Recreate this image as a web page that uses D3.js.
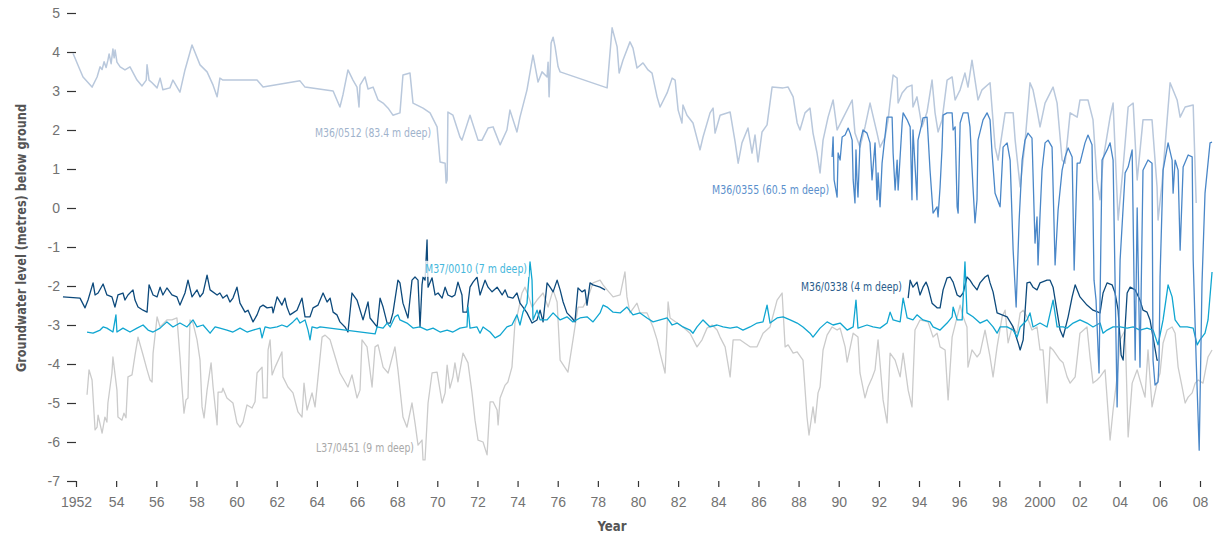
<!DOCTYPE html>
<html>
<head>
<meta charset="utf-8">
<script src="https://cdn.jsdelivr.net/npm/d3@7"></script>
<style>
  html, body { margin: 0; padding: 0; background: #ffffff; }
  svg { display: block; }
  .tick text { font-family: "Liberation Sans", Arial, sans-serif; font-size: 14px; fill: #727272; }
  .tick line { stroke: #333333; stroke-width: 1.2px; }
  .narrow { font-family: "Liberation Sans Narrow", "DejaVu Sans Condensed", "Liberation Sans", sans-serif; }
</style>
</head>
<body>
<svg id="chart" width="1217" height="538"></svg>
<script>
// Groundwater level below ground at five monitoring bores, 1951-2008 (metres)

// M36/0512 (83.4 m deep): [decimal year, level]
const m36_0512 = [
  [1951.85,3.97],[1952.20,3.54],[1952.35,3.36],[1952.80,3.10],[1953.05,3.36],[1953.20,3.62],[1953.30,3.55],
  [1953.40,3.75],[1953.50,3.60],[1953.59,3.79],[1953.65,3.95],[1953.75,3.70],[1953.84,4.08],[1953.90,3.85],
  [1953.95,4.05],[1954.04,3.74],[1954.20,3.62],[1954.44,3.54],[1954.69,3.62],[1955.04,3.28],[1955.29,3.13],
  [1955.50,3.28],[1955.54,3.67],[1955.64,3.28],[1955.79,3.21],[1956.04,3.08],[1956.19,3.33],[1956.33,3.03],
  [1956.68,3.08],[1956.83,3.28],[1957.18,2.97],[1957.43,3.54],[1957.78,4.18],[1958.18,3.67],[1958.53,3.49],
  [1958.83,3.15],[1959.03,2.85],[1959.17,3.33],[1959.32,3.28],[1961.02,3.28],[1961.32,3.10],[1963.16,3.26],
  [1963.41,3.10],[1964.81,3.00],[1965.00,2.77],[1965.15,2.59],[1965.30,2.90],[1965.55,3.54],[1965.80,3.28],
  [1966.00,3.10],[1966.10,2.59],[1966.15,3.15],[1966.40,3.36],[1966.55,3.05],[1966.80,3.10],[1967.05,2.77],
  [1967.30,2.69],[1967.55,2.56],[1967.79,2.38],[1968.14,2.44],[1968.29,3.41],[1968.64,3.46],[1968.79,2.69],
  [1969.29,2.56],[1969.64,2.44],[1969.99,2.08],[1970.14,1.18],[1970.39,1.15],[1970.44,0.64],[1970.49,0.72],
  [1970.53,2.46],[1970.78,2.38],[1971.13,1.82],[1971.23,1.74],[1971.63,2.38],[1972.03,1.74],[1972.23,1.74],
  [1972.53,2.05],[1972.78,2.08],[1973.13,1.62],[1973.47,2.00],[1973.62,2.51],[1973.97,1.95],[1974.12,2.33],
  [1974.47,3.03],[1974.77,3.92],[1975.02,3.23],[1975.22,3.49],[1975.47,3.36],[1975.52,3.74],[1975.57,2.85],
  [1975.67,4.23],[1975.77,4.38],[1975.87,4.13],[1976.02,3.62],[1976.12,3.49],[1978.46,3.08],[1978.71,4.62],
  [1978.96,4.13],[1979.06,3.46],[1979.25,3.79],[1979.60,4.26],[1979.75,4.10],[1979.95,3.59],[1980.25,3.72],
  [1980.50,3.54],[1980.70,3.46],[1980.95,2.85],[1981.10,2.59],[1981.45,2.95],[1981.70,3.33],[1981.85,3.28],
  [1982.00,2.51],[1982.19,2.18],[1982.24,2.64],[1982.44,2.38],[1982.74,2.18],[1983.09,1.49],[1983.24,1.82],
  [1983.59,2.44],[1983.74,2.56],[1983.84,1.92],[1984.09,2.38],[1984.59,2.46],[1984.84,1.69],[1984.99,1.15],
  [1985.18,1.67],[1985.48,2.05],[1985.68,1.41],[1985.83,1.87],[1985.98,1.18],[1986.18,1.95],[1986.43,2.13],
  [1986.68,3.10],[1987.23,3.08],[1987.48,3.10],[1987.73,2.85],[1987.93,2.18],[1988.07,2.00],[1988.32,2.44],
  [1988.57,2.56],[1988.72,1.92],[1988.92,1.41],[1989.07,0.90],[1989.22,1.74],[1989.47,2.33],[1989.72,2.77],
  [1989.92,2.00],[1990.17,2.26],[1990.67,2.77],[1990.81,1.92],[1991.06,1.56],[1991.31,2.08],[1991.56,2.69],
  [1991.91,1.92],[1992.06,1.56],[1992.31,1.82],[1992.46,2.26],[1992.71,3.41],[1992.91,3.33],[1992.96,2.69],
  [1993.16,2.95],[1993.41,3.10],[1993.65,3.15],[1993.70,2.59],[1993.90,2.85],[1994.15,2.08],[1994.40,2.46],
  [1994.65,3.28],[1994.80,2.44],[1994.95,1.95],[1995.15,2.26],[1995.40,3.28],[1995.65,3.36],[1995.80,2.77],
  [1996.05,3.03],[1996.29,3.46],[1996.44,3.10],[1996.64,3.79],[1996.94,2.77],[1997.14,3.03],[1997.54,3.21],
  [1997.79,1.56],[1997.94,1.23],[1998.29,2.44],[1998.69,2.44],[1998.79,1.74],[1999.04,0.54],[1999.28,1.67],
  [1999.53,3.21],[1999.68,3.03],[1999.88,2.51],[2000.03,2.08],[2000.28,2.69],[2000.68,3.10],[2000.88,2.69],
  [2001.13,1.23],[2001.28,1.15],[2001.53,2.44],[2001.88,2.33],[2002.02,2.77],[2002.42,2.77],[2002.67,2.26],
  [2002.87,0.72],[2003.02,0.21],[2003.17,1.23],[2003.52,2.33],[2003.67,2.69],[2003.92,-0.31],[2004.17,1.05],
  [2004.42,2.59],[2004.67,2.69],[2004.87,0.72],[2005.16,2.26],[2005.61,2.26],[2005.86,0.54],[2005.91,-0.31],
  [2006.11,0.64],[2006.51,3.21],[2006.86,2.77],[2007.01,2.33],[2007.26,2.59],[2007.66,2.64],[2007.81,0.13]
];

// M36/0355 (60.5 m deep)
const m36_0355 = [
  [1989.67,1.31],[1989.72,1.82],[1989.77,0.72],[1989.92,0.28],[1989.97,1.41],[1990.07,1.23],[1990.17,1.82],
  [1990.32,1.87],[1990.47,2.05],[1990.57,1.92],[1990.67,1.74],[1990.72,0.72],[1990.81,0.13],[1990.86,1.49],
  [1990.91,0.72],[1990.96,0.28],[1991.06,1.67],[1991.21,2.00],[1991.41,1.92],[1991.56,1.67],[1991.66,0.72],
  [1991.81,1.67],[1991.91,0.21],[1991.96,0.90],[1992.06,0.03],[1992.16,1.15],[1992.41,2.33],[1992.66,2.33],
  [1992.71,1.41],[1992.81,0.46],[1992.91,1.23],[1992.96,0.46],[1993.16,2.18],[1993.21,2.44],[1993.41,2.26],
  [1993.56,2.08],[1993.65,0.21],[1993.70,2.00],[1993.90,0.21],[1993.95,1.74],[1994.15,2.18],[1994.20,2.31],
  [1994.40,2.33],[1994.55,0.97],[1994.70,-0.13],[1994.90,0.03],[1994.95,-0.23],[1995.05,0.54],[1995.15,1.56],
  [1995.20,2.38],[1995.40,2.44],[1995.65,2.44],[1995.70,2.00],[1995.80,2.08],[1995.90,0.03],[1995.95,-0.13],
  [1996.05,2.18],[1996.20,2.44],[1996.44,2.44],[1996.54,2.08],[1996.69,0.54],[1996.79,-0.38],[1996.89,0.21],
  [1996.94,1.74],[1997.19,2.26],[1997.39,2.44],[1997.54,2.26],[1997.64,1.41],[1997.79,0.38],[1998.04,0.03],
  [1998.19,1.56],[1998.39,1.67],[1998.54,1.23],[1998.69,-1.08],[1998.84,-2.54],[1998.99,-0.31],[1999.14,1.23],
  [1999.28,1.74],[1999.43,1.92],[1999.63,1.79],[1999.78,-0.90],[1999.88,-0.23],[1999.93,-1.46],[2000.03,-0.18],
  [2000.13,0.97],[2000.28,1.67],[2000.43,1.74],[2000.63,1.56],[2000.78,-1.46],[2000.93,-0.05],[2001.13,0.97],
  [2001.28,1.31],[2001.43,1.54],[2001.63,1.31],[2001.73,-1.59],[2001.88,1.15],[2002.02,1.15],[2002.27,1.67],
  [2002.42,1.87],[2002.62,1.62],[2002.72,-1.85],[2002.82,-2.36],[2002.97,-4.23],[2003.12,1.23],[2003.37,1.49],
  [2003.52,1.67],[2003.67,1.23],[2003.87,-5.10],[2004.02,-1.33],[2004.27,0.90],[2004.42,1.05],[2004.62,1.49],
  [2004.77,-3.90],[2004.87,0.00],[2005.01,-4.08],[2005.16,0.97],[2005.41,1.23],[2005.61,1.15],[2005.66,-3.90],
  [2005.76,-4.54],[2005.91,-4.46],[2005.96,-3.90],[2006.01,-1.77],[2006.16,0.97],[2006.41,1.67],[2006.61,1.23],
  [2006.66,0.38],[2006.76,1.23],[2006.91,0.97],[2007.01,-1.08],[2007.16,1.05],[2007.41,1.36],[2007.61,1.31],
  [2007.66,-1.33],[2007.81,-3.90],[2007.96,-6.21],[2008.10,-1.92],[2008.25,0.38],[2008.50,1.67],[2008.60,1.69]
];

// M36/0338 (4 m deep); null marks the break in records 1978-1993
const m36_0338 = [
  [1951.35,-2.28],[1952.20,-2.31],[1952.45,-2.56],[1952.60,-2.36],[1952.85,-1.92],[1952.95,-2.23],[1953.10,-2.18],
  [1953.35,-1.95],[1953.54,-2.23],[1953.79,-2.28],[1953.94,-2.54],[1954.09,-2.23],[1954.34,-2.18],[1954.44,-2.36],
  [1954.59,-2.23],[1954.84,-2.10],[1954.94,-2.36],[1955.09,-2.54],[1955.34,-2.62],[1955.54,-2.67],[1955.64,-1.97],
  [1955.84,-2.23],[1956.04,-2.28],[1956.19,-2.03],[1956.33,-2.23],[1956.53,-2.05],[1956.78,-2.23],[1957.03,-2.28],
  [1957.18,-2.49],[1957.43,-2.18],[1957.58,-1.85],[1957.78,-2.28],[1958.03,-2.10],[1958.18,-2.28],[1958.33,-2.18],
  [1958.53,-1.72],[1958.68,-2.10],[1959.03,-2.23],[1959.17,-2.18],[1959.32,-2.31],[1959.52,-2.23],[1959.67,-2.41],
  [1959.82,-2.31],[1960.02,-2.03],[1960.17,-2.44],[1960.42,-2.67],[1960.57,-2.62],[1960.82,-2.92],[1961.02,-2.74],
  [1961.17,-2.54],[1961.32,-2.49],[1961.52,-2.56],[1961.77,-2.54],[1961.82,-2.69],[1962.02,-2.28],[1962.26,-2.49],
  [1962.41,-2.31],[1962.51,-2.54],[1962.66,-2.74],[1962.81,-2.69],[1963.01,-2.62],[1963.26,-2.31],[1963.41,-2.79],
  [1963.66,-2.79],[1963.81,-2.56],[1964.06,-2.49],[1964.31,-2.18],[1964.51,-2.41],[1964.66,-2.31],[1964.81,-2.67],
  [1965.00,-2.74],[1965.15,-2.92],[1965.40,-3.05],[1965.55,-3.18],[1965.75,-2.18],[1966.00,-2.36],[1966.30,-2.87],
  [1966.55,-2.41],[1966.65,-2.82],[1967.00,-3.05],[1967.15,-2.31],[1967.30,-2.54],[1967.50,-2.95],[1967.65,-2.95],
  [1967.79,-2.69],[1968.04,-1.85],[1968.14,-1.92],[1968.29,-2.44],[1968.54,-2.82],[1968.74,-1.85],[1968.89,-1.77],
  [1969.04,-1.85],[1969.14,-3.05],[1969.24,-1.97],[1969.29,-1.77],[1969.39,-1.85],[1969.49,-0.82],[1969.54,-2.03],
  [1969.74,-1.79],[1969.89,-2.23],[1970.04,-2.18],[1970.24,-2.31],[1970.39,-2.03],[1970.53,-2.23],[1970.73,-2.28],
  [1970.88,-2.23],[1971.03,-1.90],[1971.23,-2.23],[1971.28,-2.67],[1971.48,-2.67],[1971.63,-2.03],[1971.78,-1.90],
  [1971.98,-1.77],[1972.13,-2.23],[1972.38,-1.85],[1972.53,-2.03],[1972.73,-2.15],[1972.98,-2.03],[1973.23,-2.23],
  [1973.38,-2.10],[1973.52,-2.28],[1973.77,-2.31],[1973.97,-2.18],[1974.12,-2.44],[1974.27,-2.54],[1974.47,-2.69],
  [1974.72,-2.95],[1974.97,-2.87],[1975.12,-2.62],[1975.27,-2.92],[1975.47,-1.92],[1975.62,-2.03],[1975.77,-2.15],
  [1975.97,-1.85],[1976.12,-2.10],[1976.27,-2.41],[1976.46,-2.69],[1976.71,-2.82],[1976.86,-2.92],[1977.01,-2.05],
  [1977.21,-2.15],[1977.36,-2.10],[1977.46,-2.49],[1977.61,-1.92],[1977.76,-1.97],[1978.11,-2.03],[1978.36,-2.10],
  null,
  [1993.46,-2.31],[1993.56,-1.85],[1993.70,-2.03],[1993.90,-1.90],[1994.05,-2.23],[1994.20,-2.03],[1994.35,-1.90],
  [1994.45,-2.03],[1994.65,-2.44],[1994.90,-2.56],[1995.05,-2.56],[1995.20,-2.10],[1995.40,-1.79],[1995.55,-1.77],
  [1995.70,-1.90],[1995.90,-2.23],[1996.05,-2.28],[1996.20,-2.18],[1996.39,-1.77],[1996.54,-1.85],[1996.69,-1.97],
  [1996.89,-2.10],[1997.04,-1.92],[1997.29,-1.77],[1997.44,-1.72],[1997.54,-1.92],[1997.69,-2.15],[1997.89,-2.69],
  [1998.14,-2.74],[1998.39,-2.79],[1998.69,-3.05],[1998.94,-3.46],[1999.04,-3.64],[1999.19,-3.38],[1999.38,-1.92],
  [1999.53,-1.90],[1999.68,-2.03],[1999.88,-2.10],[2000.03,-1.92],[2000.38,-1.85],[2000.53,-1.85],[2000.68,-2.03],
  [2001.03,-3.13],[2001.18,-3.31],[2001.43,-2.79],[2001.63,-2.28],[2001.78,-1.97],[2002.02,-2.28],[2002.37,-2.49],
  [2002.67,-2.62],[2003.02,-2.69],[2003.17,-2.18],[2003.37,-1.92],[2003.62,-1.97],[2003.77,-2.18],[2003.92,-2.62],
  [2004.07,-3.77],[2004.17,-3.90],[2004.37,-2.18],[2004.52,-2.03],[2004.77,-2.10],[2005.01,-2.36],[2005.16,-2.62],
  [2005.36,-2.67],[2005.51,-2.87],[2005.66,-3.31],[2005.86,-3.90],[2005.91,-3.90]
];

// M37/0010 (7 m deep)
const m37_0010 = [
  [1952.55,-3.18],[1952.85,-3.21],[1953.20,-3.13],[1953.35,-3.05],[1953.54,-3.08],[1953.84,-3.18],[1953.99,-2.74],
  [1954.04,-3.18],[1954.34,-3.08],[1954.69,-3.18],[1955.04,-3.08],[1955.34,-3.00],[1955.59,-3.13],[1955.84,-3.18],
  [1956.19,-3.08],[1956.53,-2.92],[1956.83,-3.05],[1957.18,-2.95],[1957.53,-3.05],[1957.83,-2.87],[1958.03,-3.05],
  [1958.33,-3.00],[1958.68,-3.21],[1958.93,-3.05],[1959.17,-3.08],[1959.52,-3.13],[1959.82,-3.18],[1960.17,-3.08],
  [1960.52,-3.18],[1960.82,-3.13],[1961.17,-3.08],[1961.27,-3.33],[1961.42,-3.05],[1961.67,-3.08],[1962.02,-3.05],
  [1962.26,-3.00],[1962.51,-3.05],[1962.81,-2.92],[1963.01,-2.82],[1963.16,-2.95],[1963.41,-2.87],[1963.56,-3.13],
  [1963.66,-3.38],[1963.76,-3.05],[1964.01,-3.08],[1964.16,-3.05],[1966.90,-3.23],[1967.00,-3.05],[1967.30,-3.08],
  [1967.50,-2.95],[1967.65,-3.05],[1967.89,-2.79],[1968.04,-2.74],[1968.14,-2.87],[1968.49,-2.95],[1968.79,-3.08],
  [1969.14,-3.05],[1969.49,-3.13],[1969.79,-3.08],[1970.14,-3.18],[1970.49,-3.13],[1970.78,-3.18],[1971.13,-3.08],
  [1971.48,-3.05],[1971.53,-2.54],[1971.63,-3.08],[1971.98,-3.05],[1972.13,-3.21],[1972.28,-3.05],[1972.63,-3.18],
  [1972.88,-3.33],[1973.13,-3.26],[1973.47,-3.05],[1973.72,-3.00],[1973.97,-2.74],[1974.12,-3.00],[1974.27,-2.67],
  [1974.47,-2.44],[1974.62,-1.38],[1974.72,-1.85],[1974.77,-2.87],[1974.97,-2.62],[1975.12,-2.87],[1975.47,-2.87],
  [1975.77,-2.69],[1976.12,-2.87],[1976.46,-2.79],[1976.76,-2.92],[1977.11,-2.82],[1977.46,-2.79],[1977.76,-2.92],
  [1978.11,-2.69],[1978.26,-2.49],[1978.46,-2.54],[1978.76,-2.67],[1979.11,-2.69],[1979.45,-2.54],[1979.75,-2.74],
  [1980.10,-2.69],[1980.45,-2.82],[1980.75,-2.92],[1981.10,-2.87],[1981.45,-2.82],[1981.70,-3.00],[1981.95,-2.95],
  [1982.24,-3.05],[1982.59,-3.13],[1982.74,-3.21],[1982.94,-3.05],[1983.24,-2.87],[1983.59,-3.05],[1983.94,-3.00],
  [1984.24,-3.05],[1984.59,-3.08],[1984.94,-3.05],[1985.23,-3.13],[1985.58,-3.05],[1985.93,-2.95],[1986.23,-2.92],
  [1986.43,-2.49],[1986.58,-2.95],[1986.93,-2.82],[1987.23,-2.79],[1987.58,-2.87],[1987.93,-2.95],[1988.22,-3.05],
  [1988.57,-3.21],[1988.72,-3.31],[1989.07,-3.08],[1989.42,-2.92],[1989.72,-3.00],[1990.07,-2.95],[1990.42,-3.13],
  [1990.72,-3.05],[1990.86,-2.36],[1990.96,-3.08],[1991.41,-3.00],[1991.71,-3.05],[1992.06,-3.08],[1992.41,-2.95],
  [1992.56,-2.67],[1992.71,-2.87],[1993.06,-2.92],[1993.21,-2.31],[1993.41,-2.82],[1993.70,-2.87],[1993.90,-2.74],
  [1994.20,-2.87],[1994.55,-2.92],[1994.70,-3.05],[1995.05,-3.13],[1995.40,-2.95],[1995.65,-2.79],[1995.70,-2.54],
  [1995.90,-2.87],[1996.15,-2.87],[1996.29,-1.38],[1996.39,-2.69],[1996.69,-2.79],[1997.04,-2.95],[1997.39,-2.87],
  [1997.69,-3.05],[1997.89,-3.21],[1998.04,-3.05],[1998.39,-3.05],[1998.69,-3.13],[1998.89,-3.31],[1999.04,-3.05],
  [1999.38,-2.87],[1999.53,-2.69],[1999.68,-3.05],[2000.03,-2.95],[2000.38,-3.05],[2000.68,-2.36],[2000.88,-3.05],
  [2001.18,-3.05],[2001.38,-3.08],[2001.68,-2.95],[2002.02,-2.87],[2002.37,-2.95],[2002.67,-3.05],[2003.02,-2.95],
  [2003.17,-3.21],[2003.37,-3.13],[2003.67,-3.05],[2004.02,-3.05],[2004.37,-3.08],[2004.67,-3.05],[2005.01,-3.13],
  [2005.36,-3.08],[2005.66,-3.13],[2005.91,-3.51],[2006.16,-2.87],[2006.41,-1.97],[2006.61,-2.28],[2006.76,-2.87],
  [2007.01,-3.05],[2007.36,-3.05],[2007.66,-3.08],[2007.86,-3.51],[2008.00,-3.38],[2008.25,-3.21],[2008.40,-2.87],
  [2008.60,-1.64]
];

// L37/0451 (9 m deep)
const l37_0451 = [
  [1952.55,-4.79],[1952.65,-4.15],[1952.80,-4.41],[1952.95,-5.69],[1953.05,-5.62],[1953.10,-5.31],[1953.30,-5.77],
  [1953.44,-5.36],[1953.54,-5.49],[1953.59,-5.00],[1953.79,-4.23],[1953.84,-3.82],[1954.04,-4.67],[1954.09,-5.36],
  [1954.29,-5.44],[1954.39,-5.26],[1954.49,-5.38],[1954.59,-4.33],[1954.79,-4.28],[1954.94,-3.77],[1955.09,-3.31],
  [1955.34,-3.77],[1955.54,-4.15],[1955.69,-4.41],[1955.79,-4.46],[1955.84,-3.72],[1956.04,-2.79],[1956.19,-3.05],
  [1956.53,-2.87],[1956.78,-2.87],[1957.03,-2.82],[1957.18,-3.82],[1957.28,-4.59],[1957.38,-5.26],[1957.48,-4.92],
  [1957.58,-4.87],[1957.68,-2.87],[1957.83,-2.95],[1958.03,-3.38],[1958.18,-3.90],[1958.28,-5.10],[1958.38,-5.38],
  [1958.53,-4.67],[1958.73,-3.97],[1958.83,-4.59],[1959.03,-5.56],[1959.08,-4.72],[1959.27,-4.72],[1959.32,-4.62],
  [1959.52,-4.87],[1959.82,-5.00],[1960.02,-5.51],[1960.17,-5.62],[1960.32,-5.49],[1960.52,-5.05],[1960.77,-5.13],
  [1960.92,-4.97],[1961.02,-4.23],[1961.27,-4.08],[1961.32,-4.87],[1961.52,-4.87],[1961.57,-3.64],[1961.67,-3.38],
  [1961.77,-4.28],[1961.92,-4.08],[1962.26,-3.69],[1962.31,-4.33],[1962.56,-4.59],[1962.81,-4.74],[1963.06,-5.23],
  [1963.26,-5.36],[1963.36,-4.49],[1963.51,-5.18],[1963.76,-4.74],[1963.91,-5.10],[1964.26,-3.31],[1964.41,-3.26],
  [1964.66,-3.38],[1964.81,-3.64],[1965.15,-4.23],[1965.55,-4.59],[1965.75,-4.28],[1966.00,-4.87],[1966.15,-4.67],
  [1966.25,-3.38],[1966.50,-3.56],[1966.75,-4.59],[1966.90,-3.56],[1967.05,-3.51],[1967.30,-4.08],[1967.55,-4.23],
  [1967.89,-3.56],[1968.04,-4.15],[1968.29,-5.36],[1968.49,-5.62],[1968.74,-5.00],[1968.89,-5.51],[1969.04,-6.08],
  [1969.24,-5.95],[1969.29,-6.46],[1969.39,-6.46],[1969.54,-5.00],[1969.74,-4.23],[1969.99,-4.21],[1970.24,-5.00],
  [1970.39,-4.74],[1970.49,-4.03],[1970.63,-4.62],[1970.78,-4.33],[1970.88,-3.97],[1971.03,-4.46],[1971.28,-3.72],
  [1971.53,-3.97],[1971.73,-4.74],[1971.88,-5.44],[1972.03,-5.95],[1972.28,-6.00],[1972.48,-6.33],[1972.63,-4.97],
  [1972.78,-4.97],[1972.98,-5.18],[1973.03,-5.56],[1973.13,-4.87],[1973.38,-4.54],[1973.52,-4.46],[1973.72,-4.08],
  [1973.87,-2.95],[1974.02,-2.67],[1974.22,-2.18],[1974.37,-2.03],[1974.52,-2.23],[1974.72,-2.54],[1974.97,-2.36],
  [1975.27,-2.18],[1975.52,-2.54],[1975.77,-2.10],[1975.97,-2.41],[1976.12,-3.90],[1976.51,-4.21],[1976.76,-3.38],
  [1977.01,-2.54],[1977.26,-2.54],[1977.46,-2.36],[1977.76,-1.92],[1978.11,-1.85],[1978.26,-1.97],[1978.46,-2.10],
  [1978.76,-2.28],[1979.11,-2.23],[1979.35,-1.64],[1979.45,-2.28],[1979.60,-2.69],[1979.95,-2.44],[1980.10,-2.69],
  [1980.45,-2.69],[1980.75,-3.05],[1980.95,-3.38],[1981.10,-3.72],[1981.35,-4.23],[1981.50,-2.41],[1981.60,-2.82],
  [1981.95,-2.95],[1982.24,-3.05],[1982.59,-3.21],[1982.94,-3.56],[1983.19,-3.38],[1983.44,-3.08],[1983.69,-3.00],
  [1983.94,-3.13],[1984.09,-3.31],[1984.34,-3.56],[1984.59,-4.33],[1984.74,-3.38],[1985.08,-3.38],[1985.58,-3.56],
  [1985.93,-3.56],[1986.23,-3.21],[1986.58,-3.05],[1986.93,-2.36],[1987.18,-2.18],[1987.33,-3.56],[1987.48,-3.51],
  [1987.73,-3.72],[1987.93,-3.69],[1988.22,-3.90],[1988.42,-5.36],[1988.52,-5.82],[1988.72,-5.10],[1988.82,-5.51],
  [1988.97,-4.74],[1989.07,-4.59],[1989.22,-3.64],[1989.42,-3.26],[1989.67,-3.05],[1989.92,-3.13],[1990.07,-3.08],
  [1990.32,-3.56],[1990.42,-3.95],[1990.72,-3.21],[1990.96,-3.31],[1991.06,-4.23],[1991.31,-4.87],[1991.46,-4.59],
  [1991.66,-4.36],[1991.81,-4.15],[1991.96,-3.38],[1992.21,-4.92],[1992.41,-5.51],[1992.56,-3.72],[1992.81,-3.90],
  [1993.06,-4.33],[1993.21,-3.72],[1993.46,-4.67],[1993.65,-5.10],[1993.80,-3.13],[1994.05,-2.87],[1994.45,-2.92],
  [1994.70,-3.31],[1994.90,-3.21],[1995.05,-3.56],[1995.30,-3.64],[1995.45,-4.92],[1995.65,-3.31],[1995.90,-2.79],
  [1996.05,-2.49],[1996.20,-2.79],[1996.39,-3.05],[1996.44,-4.08],[1996.64,-3.64],[1996.89,-3.82],[1997.04,-3.72],
  [1997.29,-3.13],[1997.54,-3.82],[1997.69,-4.33],[1997.89,-3.56],[1998.14,-2.79],[1998.29,-2.62],[1998.44,-3.46],
  [1998.64,-3.05],[1998.89,-3.21],[1999.04,-2.69],[1999.19,-2.62],[1999.38,-2.79],[1999.63,-3.13],[1999.88,-3.05],
  [2000.03,-3.64],[2000.18,-3.64],[2000.38,-5.00],[2000.53,-3.56],[2000.68,-3.64],[2001.03,-3.90],[2001.18,-3.97],
  [2001.38,-4.33],[2001.53,-4.49],[2001.78,-4.33],[2002.02,-3.21],[2002.37,-3.05],[2002.52,-3.82],[2002.67,-4.49],
  [2002.87,-4.41],[2003.02,-4.33],[2003.27,-4.15],[2003.52,-5.95],[2003.67,-5.18],[2003.87,-4.33],[2004.02,-3.38],
  [2004.27,-3.13],[2004.42,-5.87],[2004.62,-4.49],[2004.87,-4.15],[2005.01,-4.41],[2005.26,-4.85],[2005.41,-3.64],
  [2005.61,-5.10],[2005.86,-4.49],[2006.01,-4.23],[2006.16,-3.46],[2006.36,-3.13],[2006.61,-3.05],[2006.76,-3.21],
  [2006.91,-4.08],[2007.11,-4.59],[2007.26,-5.00],[2007.41,-4.85],[2007.61,-4.74],[2007.76,-4.49],[2007.91,-4.41],
  [2008.15,-4.49],[2008.40,-3.82],[2008.60,-3.64]
];

// Axis ticks
const yearTicks = [1952,1954,1956,1958,1960,1962,1964,1966,1968,1970,1972,1974,1976,1978,1980,
                   1982,1984,1986,1988,1990,1992,1994,1996,1998,2000,2002,2004,2006,2008];
const yearTickLabels = ["1952","54","56","58","60","62","64","66","68","70","72","74","76","78","80",
                        "82","84","86","88","90","92","94","96","98","2000","02","04","06","08"];
const levelTicks = [5,4,3,2,1,0,-1,-2,-3,-4,-5,-6,-7];

const svg = d3.select("#chart");

const x = d3.scaleLinear().domain([1952, 2008]).range([76, 1200]);
const y = d3.scaleLinear().domain([-7, 5]).range([481, 13]);

// Axes: short ticks only, no axis lines
const yAxis = d3.axisLeft(y).tickValues(levelTicks).tickSize(9).tickPadding(7)
  .tickFormat(d => String(d));
svg.append("g").attr("transform", `translate(${x(1952)},0)`).call(yAxis)
  .call(g => g.select(".domain").remove());

const xAxis = d3.axisBottom(x).tickValues(yearTicks).tickSize(6).tickPadding(10)
  .tickFormat((d, i) => yearTickLabels[i]);
svg.append("g").attr("transform", `translate(0,${y(-7)})`).call(xAxis)
  .call(g => g.select(".domain").remove());

// Axis titles
svg.append("text").attr("class", "narrow")
  .attr("transform", "translate(21,238) rotate(-90)")
  .attr("text-anchor", "middle").attr("dominant-baseline", "central")
  .attr("font-size", 14).attr("font-weight", "bold").attr("fill", "#555555")
  .attr("textLength", 268).attr("lengthAdjust", "spacingAndGlyphs")
  .text("Groundwater level (metres) below ground");

svg.append("text").attr("class", "narrow")
  .attr("x", 612).attr("y", 526)
  .attr("text-anchor", "middle").attr("dominant-baseline", "central")
  .attr("font-size", 14).attr("font-weight", "bold").attr("fill", "#555555")
  .attr("textLength", 29).attr("lengthAdjust", "spacingAndGlyphs")
  .text("Year");

// Series lines
const line = d3.line()
  .defined(d => d !== null)
  .x(d => x(d[0]))
  .y(d => y(d[1]));

const series = [
  { data: l37_0451, color: "#cbcbcb", width: 1.3 },
  { data: m36_0512, color: "#b9c8dc", width: 1.5 },
  { data: m36_0338, color: "#0d4a7c", width: 1.3 },
  { data: m37_0010, color: "#10a6d1", width: 1.3 },
  { data: m36_0355, color: "#4a87c8", width: 1.3 }
];

svg.append("g").selectAll("path").data(series).join("path")
  .attr("d", s => line(s.data))
  .attr("fill", "none")
  .attr("stroke", s => s.color)
  .attr("stroke-width", s => s.width)
  .attr("stroke-linejoin", "round");

// Bore labels
const labels = [
  { text: "M36/0512 (83.4 m deep)", yr: 1969.69, lv: 1.92, anchor: "end", color: "#9fb3cc", len: 116 },
  { text: "M36/0355 (60.5 m deep)", yr: 1989.52, lv: 0.46, anchor: "end", color: "#5a8fcc", len: 117 },
  { text: "M37/0010 (7 m deep)",    yr: 1969.39, lv: -1.56, anchor: "start", color: "#46b7dc", len: 102, box: true },
  { text: "M36/0338 (4 m deep)",    yr: 1988.12, lv: -2.03, anchor: "start", color: "#2a5d8c", len: 101 },
  { text: "L37/0451 (9 m deep)",    yr: 1968.84, lv: -6.15, anchor: "end", color: "#a9a9a9", len: 98 }
];

const lg = svg.append("g");
labels.forEach(l => {
  const tx = x(l.yr), ty = y(l.lv);
  if (l.box) {
    const x0 = l.anchor === "end" ? tx - l.len : tx;
    lg.append("rect").attr("x", x0 - 2).attr("y", ty - 8).attr("width", l.len + 4).attr("height", 16)
      .attr("fill", "#ffffff").attr("fill-opacity", 0.8);
  }
  lg.append("text").attr("class", "narrow")
    .attr("x", tx).attr("y", ty)
    .attr("text-anchor", l.anchor).attr("dominant-baseline", "central")
    .attr("font-size", 12).attr("fill", l.color)
    .attr("textLength", l.len).attr("lengthAdjust", "spacingAndGlyphs")
    .text(l.text);
});
</script>
</body>
</html>
